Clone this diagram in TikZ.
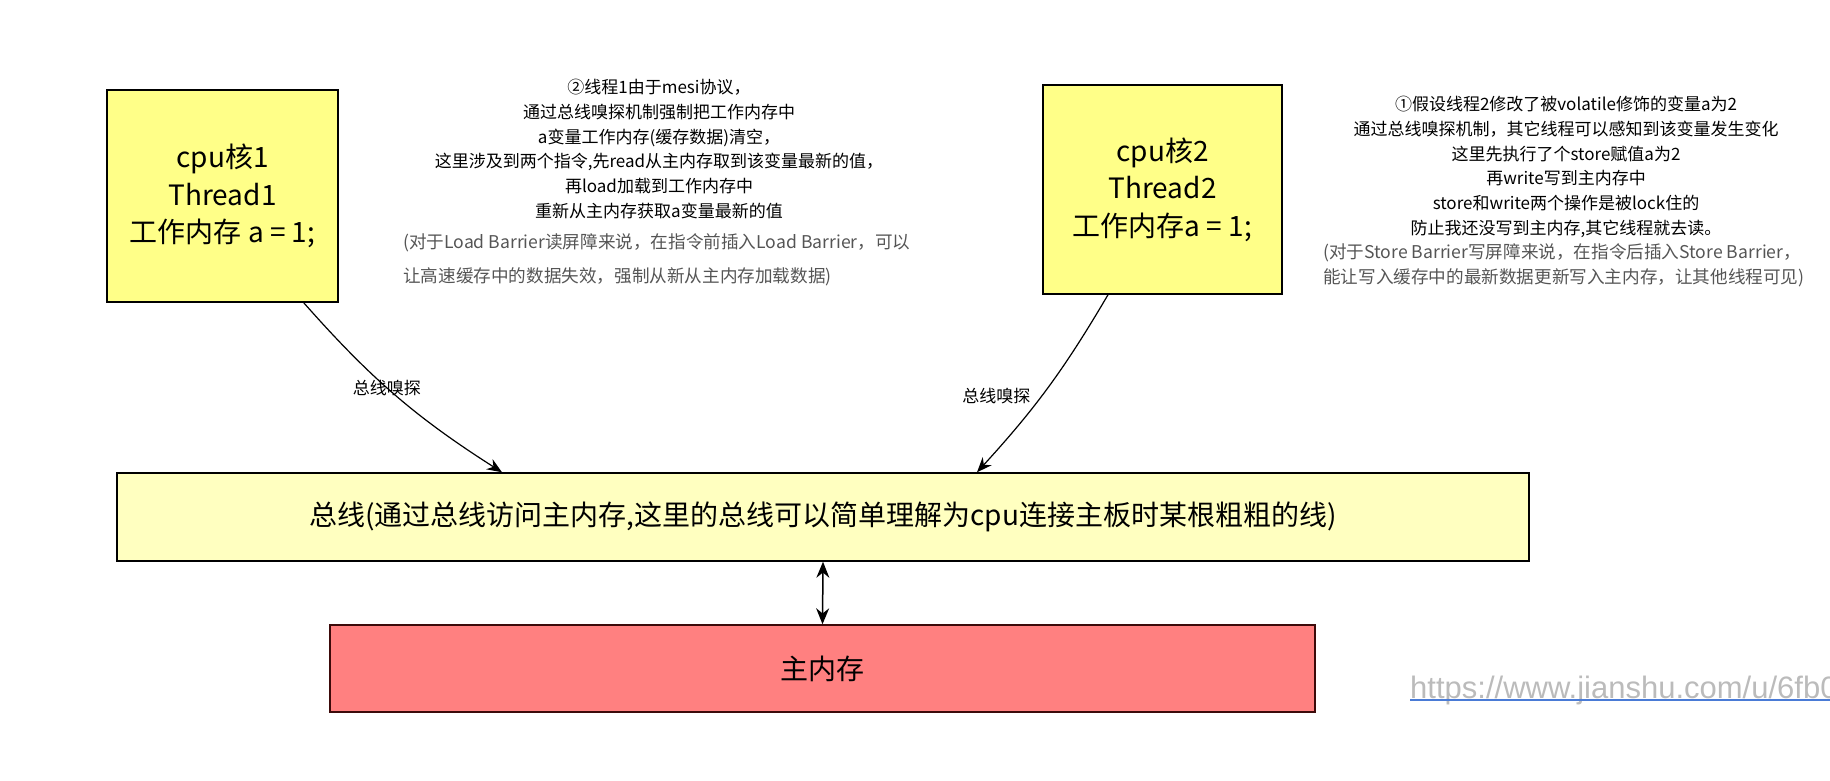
\documentclass[tikz,border=0pt]{standalone}
\usepackage{fontspec}
\setmainfont{Noto Sans CJK SC}
\newfontfamily\urlfont{Liberation Sans}
\usepackage{tikz}
\usetikzlibrary{positioning, arrows.meta}
\definecolor{coreyellow}{HTML}{FFFF88}
\definecolor{busyellow}{HTML}{FFFFC0}
\definecolor{memred}{HTML}{FF8080}
\definecolor{notegray}{HTML}{555555}
\definecolor{urlblue}{HTML}{4A7BD6}
\definecolor{urlgray}{HTML}{BBBBBB}

\begin{document}
\begin{tikzpicture}[x=1pt, y=-1pt,
    box/.style={draw, line width=1.5pt, align=center, inner sep=0pt, font=\fontsize{28}{37.5}\selectfont},
    core/.style={box, fill=coreyellow},
    note/.style={align=center, inner sep=0pt, font=\fontsize{17}{24.7}\selectfont},
    barrier/.style={align=left, inner sep=0pt, text=notegray},
    snoop/.style={-{Stealth[length=15pt, width=12pt]}, line width=1.2pt},
    snooplabel/.style={inner sep=1pt, font=\fontsize{17}{20}\selectfont},
    link/.style={{Stealth[length=16pt, width=13pt]}-{Stealth[length=16pt, width=13pt]}, line width=1.5pt},
    urltext/.style={inner sep=0pt, text=urlgray, font=\urlfont\fontsize{31}{36}\selectfont}]
      \useasboundingbox (0,0) rectangle (1830,780);
      \clip (0,0) rectangle (1830,780);
      \node[core, minimum width=231pt, minimum height=212pt] (core1) at (222.5,196) {cpu核1\\Thread1\\工作内存 a = 1;};
      \node[core, minimum width=239pt, minimum height=209pt] (core2) at (1162.5,189.5) {cpu核2\\Thread2\\工作内存a = 1;};
      \node[box, fill=busyellow, minimum width=1412pt, minimum height=88pt] (bus) at (823,517) {总线(通过总线访问主内存,这里的总线可以简单理解为cpu连接主板时某根粗粗的线)};
      \node[box, fill=memred, draw={rgb,255:red,60;green,10;blue,10}, minimum width=985pt, minimum height=87pt] (mem) at (822.5,668.5) {主内存};
      \node[note] (step2) at (659,149) {②线程1由于mesi协议，\\通过总线嗅探机制强制把工作内存中\\a变量工作内存(缓存数据)清空，\\这里涉及到两个指令,先read从主内存取到该变量最新的值，\\再load加载到工作内存中\\重新从主内存获取a变量最新的值};
      \node[barrier, anchor=west, font=\fontsize{17.6}{34}\selectfont] (loadbar) at (403,260) {(对于Load Barrier读屏障来说，在指令前插入Load Barrier，可以\\让高速缓存中的数据失效，强制从新从主内存加载数据)};
      \node[note] (step1) at (1566,167) {①假设线程2修改了被volatile修饰的变量a为2\\通过总线嗅探机制，其它线程可以感知到该变量发生变化\\这里先执行了个store赋值a为2\\再write写到主内存中\\store和write两个操作是被lock住的\\防止我还没写到主内存,其它线程就去读。};
      \node[barrier, anchor=west, font=\fontsize{17.6}{25}\selectfont] (storebar) at (1323,265.5) {(对于Store Barrier写屏障来说，在指令后插入Store Barrier，\\能让写入缓存中的最新数据更新写入主内存，让其他线程可见)};
      \node[urltext, anchor=base west] (url) at (1410,698) {https://www.jianshu.com/u/6fb0};
      \path[snoop]
                ([xshift=-35pt]core1.south east) edge[bend right=8] node[snooplabel, pos=0.45] {总线嗅探} ([xshift=-321pt]bus.north)
                ([xshift=-54.5pt]core2.south) edge[bend left=6] node[snooplabel, pos=0.55, left=10pt] {总线嗅探} ([xshift=154pt]bus.north);
      \draw[link] (bus.south) -- (mem.north);
      \draw[urlblue, line width=1.5pt] ([yshift=-2pt]url.base west) -- ([yshift=-2pt]url.base east);
\end{tikzpicture}
\end{document}
